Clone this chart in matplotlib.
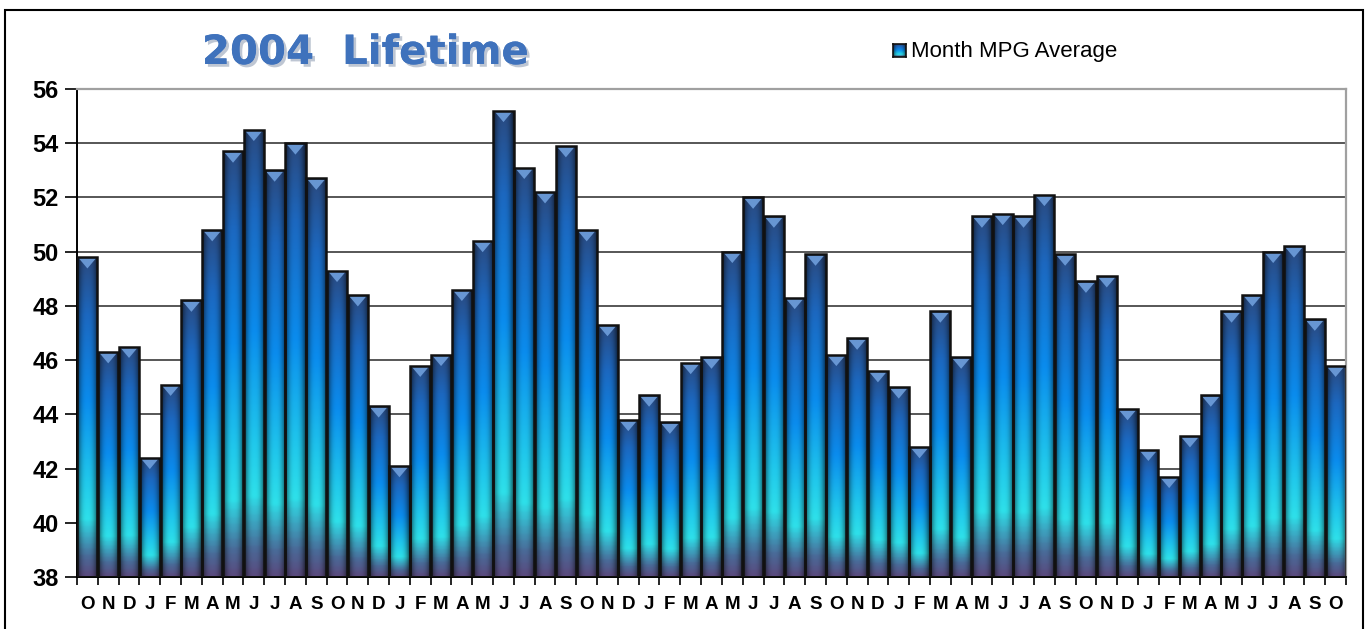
import matplotlib
matplotlib.use('Agg')
import matplotlib.pyplot as plt
import matplotlib.patheffects as pe
import numpy as np
from matplotlib.colors import LinearSegmentedColormap
from matplotlib.patches import Rectangle, Polygon

# monthly MPG averages, Oct 2004 .. Oct 2009
months = list('ONDJFMAMJJAS') * 5 + ['O']
mpg = [49.8, 46.3, 46.5, 42.4, 45.1, 48.2, 50.8, 53.7, 54.5, 53.0, 54.0, 52.7,
       49.3, 48.4, 44.3, 42.1, 45.8, 46.2, 48.6, 50.4, 55.2, 53.1, 52.2, 53.9,
       50.8, 47.3, 43.8, 44.7, 43.7, 45.9, 46.1, 50.0, 52.0, 51.3, 48.3, 49.9,
       46.2, 46.8, 45.6, 45.0, 42.8, 47.8, 46.1, 51.3, 51.4, 51.3, 52.1, 49.9,
       48.9, 49.1, 44.2, 42.7, 41.7, 43.2, 44.7, 47.8, 48.4, 50.0, 50.2, 47.5,
       45.8]
y_ticks = list(range(38, 57, 2))

title = '2004  Lifetime'
series_name = 'Month MPG Average'

# vertical gradient of the bars (bottom -> top)
grad = LinearSegmentedColormap.from_list('bar', [
    (0.00, '#5a4a7e'),
    (0.06, '#4a6a98'),
    (0.18, '#2ee0ea'),
    (0.30, '#20c8ec'),
    (0.55, '#0a8cee'),
    (0.82, '#1c68c0'),
    (1.00, '#2a4a80'),
])


def bar_image(nv=200, nh=40):
    v = grad(np.linspace(0, 1, nv))[:, :3]
    h = np.linspace(-1, 1, nh)
    shade = 1.0 - 0.65 * np.abs(h) ** 2.5
    img = v[:, None, :] * shade[None, :, None]
    return img[::-1]


fig = plt.figure(figsize=(13.7, 6.29), dpi=100)
ax = fig.add_axes([77 / 1370, 1 - 577 / 629, (1346 - 77) / 1370, (577 - 89) / 629])

x = np.arange(len(mpg))
ymin, ymax = 38, 56

for yt in y_ticks[1:-1]:
    ax.axhline(yt, color='#3a3a3a', lw=1.2, zorder=0)

bars = ax.bar(x, np.array(mpg) - ymin, bottom=ymin, width=0.97,
              facecolor='none', edgecolor='#111111', linewidth=1.8, zorder=3)

img = bar_image()
for b in bars:
    x0, y0 = b.get_x(), b.get_y()
    w, hgt = b.get_width(), b.get_height()
    im = ax.imshow(img, extent=[x0, x0 + w, y0, y0 + hgt], aspect='auto',
                   interpolation='bilinear', zorder=2)
    im.set_clip_path(b)
    # top bevel highlight
    cx = x0 + w / 2
    top = y0 + hgt
    tri = Polygon([(x0 + 0.08, top - 0.05), (x0 + w - 0.08, top - 0.05),
                   (cx, top - 0.42)], closed=True,
                  facecolor='#6f9fdc', edgecolor='none', alpha=0.9, zorder=2.5)
    ax.add_patch(tri)

ax.set_xlim(-0.5, len(mpg) - 0.5)
ax.set_ylim(ymin, ymax)
ax.set_yticks(y_ticks)
ax.set_yticklabels([str(t) for t in y_ticks], fontsize=17, fontweight='bold',
                   family='Liberation Sans')
ax.set_xticks(x)
ax.set_xticklabels(months, fontsize=13.5, fontweight='bold', family='Liberation Sans')
ax.tick_params(axis='x', length=0, pad=14)
ax.tick_params(axis='y', length=9, width=1.2, direction='out', pad=4)
# ticks between categories
ax.set_xticks(np.arange(-0.5, len(mpg), 1), minor=True)
ax.tick_params(axis='x', which='minor', length=6, width=1.2, direction='out')

for s in ['left', 'bottom']:
    ax.spines[s].set_color('black')
    ax.spines[s].set_linewidth(1.4)
for s in ['top', 'right']:
    ax.spines[s].set_color('#a0a0a0')
    ax.spines[s].set_linewidth(1.6)

# outer chart frame
fig.patches.append(Rectangle((5 / 1370, -0.05), (1363 - 5) / 1370, 1.05 - 10 / 629,
                             transform=fig.transFigure, fill=False,
                             edgecolor='black', linewidth=1.5))

fig.text(365 / 1370, 1 - 53 / 629, title, ha='center', va='center',
         fontsize=29, fontweight='bold', family='DejaVu Sans', color='#3f72bc',
         path_effects=[pe.withSimplePatchShadow(offset=(2, -2), shadow_rgbFace='#7f8fa8', alpha=0.5),
                       pe.Normal()])

# legend key
lx0, ly0 = 893 / 1370, 1 - 57 / 629
key = fig.add_axes([lx0, ly0, 13 / 1370, 13 / 629])
key.imshow(bar_image(40, 40), extent=[0, 1, 0, 1], aspect='auto')
key.set_xticks([])
key.set_yticks([])
for s in key.spines.values():
    s.set_color('#111111')
    s.set_linewidth(1.2)
fig.text(911 / 1370, 1 - 52 / 629, series_name, ha='left', va='center',
         fontsize=16, family='Liberation Sans', color='black')

fig.savefig('out.png', dpi=100, facecolor='white')
